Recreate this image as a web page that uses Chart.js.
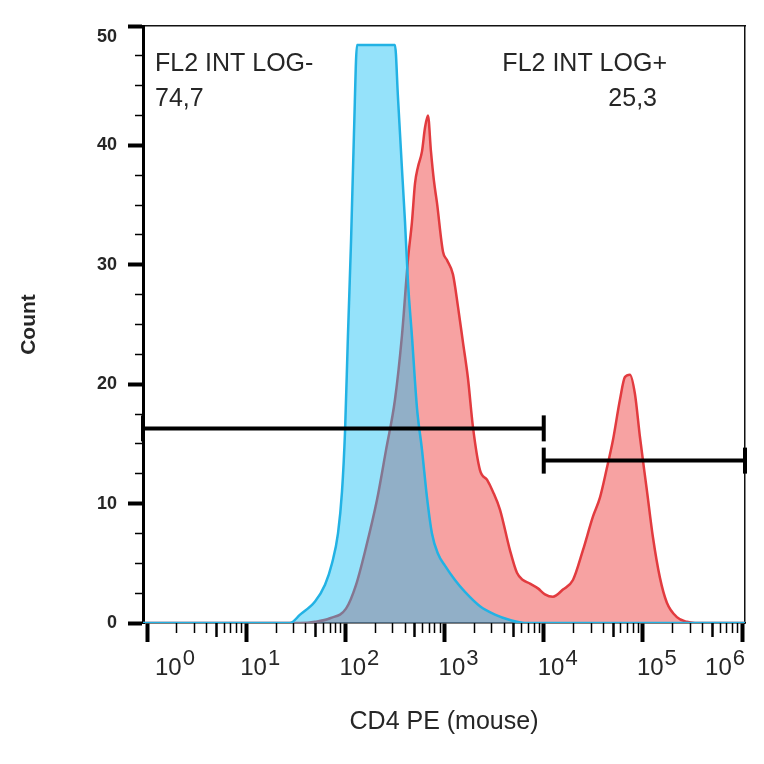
<!DOCTYPE html>
<html>
<head>
<meta charset="utf-8">
<title>CD4 PE (mouse) histogram</title>
<script src="https://cdn.jsdelivr.net/npm/chart.js@4.4.1/dist/chart.umd.min.js"></script>
<style>
  html, body { margin: 0; padding: 0; background: #fff; }
  #chart { display: block; }
</style>
</head>
<body>
<canvas id="chart" width="764" height="764"></canvas>
<script>
/* --- DATA --- */
const X_MIN = 0.91;
const X_MAX = 1.07e6;

// decade ticks + their exponent labels (10^0 ... 10^6)
const X_DECADES = [1, 10, 100, 1e3, 1e4, 1e5, 1e6];
const X_EXPONENTS = ['0', '1', '2', '3', '4', '5', '6'];
const X_MID = [5, 50, 500, 5e3, 5e4, 5e5];
const X_MINOR = [
  2, 3, 4, 6, 7, 8, 9,
  20, 30, 40, 60, 70, 80, 90,
  200, 300, 400, 600, 700, 800, 900,
  2e3, 3e3, 4e3, 6e3, 7e3, 8e3, 9e3,
  2e4, 3e4, 4e4, 6e4, 7e4, 8e4, 9e4,
  2e5, 3e5, 4e5, 6e5, 7e5, 8e5, 9e5
];

const Y_TICKS = [0, 10, 20, 30, 40, 50];
const Y_MINOR = [2.5, 5, 7.5, 12.5, 15, 17.5, 22.5, 25, 27.5, 32.5, 35, 37.5, 42.5, 45, 47.5];

// control (cyan) histogram
const BLUE_X = [0.91, 27.6, 34.9, 49.4, 62.3, 73.3, 84.2, 92.4, 99.1, 106, 114, 122, 131,
  316, 339, 372, 399, 428, 469, 527, 592, 665, 746, 858, 1009, 1273, 1606, 2275, 3222, 4563, 6463, 1.07e6];
const BLUE_Y = [0, 0, 0.7, 1.8, 3.2, 5, 7.5, 11, 16, 24, 32, 41, 48.4,
  48.4, 44, 38, 33.6, 28.5, 24, 18, 14.5, 10.5, 7.5, 5.8, 4.8, 3.6, 2.6, 1.4, 0.7, 0.25, 0, 0];

// CD4 PE (red) histogram
const RED_X = [0.91, 34.9, 49.4, 70, 101.4, 128, 161, 208, 257, 316, 372, 428, 469, 503, 539, 592, 635, 680,
  729, 782, 838, 964, 1057, 1215, 1365, 1533, 1721, 1934, 2275, 2676, 3075, 3618, 4563, 5369, 6171, 7260,
  8741, 10280, 12380, 15620, 19700, 24850, 31330, 36860, 43370, 49840, 58640, 65850, 73950, 83050, 93280,
  109700, 126100, 148400, 174500, 220100, 277600, 334300, 1.07e6];
const RED_Y = [0, 0, 0.1, 0.4, 1.2, 3.2, 6.3, 10.3, 14.5, 18.7, 24.1, 30.5, 33.6, 36.8, 38.2, 39.5, 41.5, 42.5,
  39.5, 37, 35.2, 31.1, 30.4, 29.2, 26.5, 23.5, 20.5, 16.4, 12.8, 12, 11, 9.5, 6.1, 4.2, 3.6, 3.3,
  2.9, 2.4, 2.2, 2.8, 3.6, 6.1, 8.9, 10.5, 13, 15.3, 18.7, 20.6, 20.8, 19.2, 15.6,
  11.1, 7.2, 3.8, 1.7, 0.5, 0.1, 0, 0];

// gates
const GATE_NEG_X = [X_MIN, 1e4];
const GATE_NEG_Y = [16.3, 16.3];
const GATE_POS_X = [1e4, X_MAX];
const GATE_POS_Y = [13.6, 13.6];
const GATE_NAMES = ['FL2 INT LOG-', 'FL2 INT LOG+'];
const GATE_PCT = ['74,7', '25,3'];

/* --- STYLE --- */
const FONT = "'Liberation Sans', Arial, sans-serif";
const TEXT = '#262626';

const toPoints = (xs, ys) => xs.map((x, i) => ({ x, y: ys[i] }));
const fixTicks = values => scale => { scale.ticks = values.map(v => ({ value: v })); };

// 10^n labels with real superscripts, placed from the x scale
const decadeLabels = {
  id: 'decadeLabels',
  afterDraw(chart) {
    const { ctx, chartArea, scales: { x } } = chart;
    ctx.save();
    ctx.fillStyle = TEXT;
    ctx.textBaseline = 'alphabetic';
    ctx.textAlign = 'left';
    X_DECADES.forEach((v, i) => {
      const exp = X_EXPONENTS[i];
      ctx.font = '24px ' + FONT;
      const wBase = ctx.measureText('10').width;
      ctx.font = '22px ' + FONT;
      const wExp = ctx.measureText(exp).width;
      let left = x.getPixelForValue(v) - 6;
      left = Math.max(left, chartArea.left + 12);
      left = Math.min(left, chartArea.right - wBase - wExp - 1);
      ctx.font = '24px ' + FONT;
      ctx.fillText('10', left, 675);
      ctx.font = '22px ' + FONT;
      ctx.fillText(exp, left + wBase + 1, 665);
    });
    ctx.restore();
  }
};

// gate names and percentages
const gateText = {
  id: 'gateText',
  afterDraw(chart) {
    const { ctx, chartArea } = chart;
    ctx.save();
    ctx.fillStyle = TEXT;
    ctx.font = '25px ' + FONT;
    ctx.textBaseline = 'alphabetic';
    ctx.textAlign = 'left';
    ctx.fillText(GATE_NAMES[0], chartArea.left + 12, chartArea.top + 45);
    ctx.fillText(GATE_PCT[0], chartArea.left + 12, chartArea.top + 80);
    ctx.textAlign = 'right';
    ctx.fillText(GATE_NAMES[1], chartArea.right - 78, chartArea.top + 45);
    ctx.fillText(GATE_PCT[1], chartArea.right - 88, chartArea.top + 80);
    ctx.restore();
  }
};

Chart.defaults.font.family = FONT;

const gateStyle = {
  borderColor: '#000',
  borderWidth: 4,
  pointStyle: 'line',
  pointRotation: 90,
  pointRadius: 13,
  pointBorderWidth: 4,
  pointBorderColor: '#000',
  fill: false,
  clip: false,
  order: 0,
  xAxisID: 'x',
  yAxisID: 'y'
};

new Chart(document.getElementById('chart'), {
  type: 'line',
  data: {
    datasets: [
      { label: GATE_NAMES[0], data: toPoints(GATE_NEG_X, GATE_NEG_Y), ...gateStyle },
      { label: GATE_NAMES[1], data: toPoints(GATE_POS_X, GATE_POS_Y), ...gateStyle },
      {
        label: 'Control',
        data: toPoints(BLUE_X, BLUE_Y),
        borderColor: '#22b2e4',
        backgroundColor: 'rgba(20, 190, 245, 0.45)',
        borderWidth: 2.5,
        fill: 'origin',
        pointRadius: 0,
        cubicInterpolationMode: 'monotone',
        order: 1,
        xAxisID: 'x',
        yAxisID: 'y'
      },
      {
        label: 'CD4 PE',
        data: toPoints(RED_X, RED_Y),
        borderColor: '#e23b3f',
        backgroundColor: 'rgba(240, 70, 70, 0.5)',
        borderWidth: 2.5,
        fill: 'origin',
        pointRadius: 0,
        cubicInterpolationMode: 'monotone',
        order: 2,
        xAxisID: 'x',
        yAxisID: 'y'
      }
    ]
  },
  options: {
    responsive: false,
    animation: false,
    devicePixelRatio: 1,
    events: [],
    layout: { padding: { top: 26, right: 19, bottom: 0, left: 10 } },
    plugins: { legend: { display: false }, tooltip: { enabled: false } },
    scales: {
      x: {
        type: 'logarithmic',
        axis: 'x',
        position: 'bottom',
        min: X_MIN,
        max: X_MAX,
        afterBuildTicks: fixTicks(X_DECADES),
        afterFit: s => { s.height = 141; },
        grid: { display: true, drawOnChartArea: false, drawTicks: true, tickLength: 19, tickWidth: 4, tickColor: '#000' },
        border: { display: true, color: '#000', width: 1.5 },
        ticks: { display: false },
        title: { display: true, text: 'CD4 PE (mouse)', color: TEXT, font: { size: 25 }, padding: { top: 0, bottom: 27 } }
      },
      xMid: {
        type: 'logarithmic',
        axis: 'x',
        position: { y: 0 },
        min: X_MIN,
        max: X_MAX,
        afterBuildTicks: fixTicks(X_MID),
        grid: { display: true, drawOnChartArea: false, drawTicks: true, tickLength: 14, tickWidth: 2.5, tickColor: '#000' },
        border: { display: false },
        ticks: { display: false }
      },
      xMinor: {
        type: 'logarithmic',
        axis: 'x',
        position: { y: 0 },
        min: X_MIN,
        max: X_MAX,
        afterBuildTicks: fixTicks(X_MINOR),
        grid: { display: true, drawOnChartArea: false, drawTicks: true, tickLength: 10, tickWidth: 1.5, tickColor: '#000' },
        border: { display: false },
        ticks: { display: false }
      },
      xTop: {
        type: 'linear',
        axis: 'x',
        position: 'top',
        min: 0,
        max: 1,
        afterFit: s => { s.height = 0; },
        grid: { display: false },
        border: { display: true, color: '#111', width: 1.5 },
        ticks: { display: false }
      },
      y: {
        type: 'linear',
        axis: 'y',
        position: 'left',
        min: 0,
        max: 50,
        afterBuildTicks: fixTicks(Y_TICKS),
        // fixed width so the plot starts where the reference frame does
        afterFit: s => { s.width = 133; s.paddingTop = 0; s.paddingBottom = 0; },
        grid: { display: true, drawOnChartArea: false, drawTicks: true, tickLength: 15, tickWidth: 4, tickColor: '#000' },
        border: { display: true, color: '#000', width: 3 },
        ticks: {
          color: TEXT,
          padding: 11,
          font: { size: 18, weight: 'bold' },
          // top label sits just under the frame corner
          callback: v => (v === 50 ? ['', '50'] : String(v))
        },
        title: { display: true, text: 'Count', color: TEXT, font: { size: 21, weight: 'bold' }, padding: { top: 7, bottom: 0 } }
      },
      yMinor: {
        type: 'linear',
        axis: 'y',
        position: { x: X_MIN },
        min: 0,
        max: 50,
        afterBuildTicks: fixTicks(Y_MINOR),
        grid: { display: true, drawOnChartArea: false, drawTicks: true, tickLength: 8, tickWidth: 1.5, tickColor: '#000' },
        border: { display: false },
        ticks: { display: false }
      },
      yRight: {
        type: 'linear',
        axis: 'y',
        position: 'right',
        min: 0,
        max: 1,
        afterFit: s => { s.width = 0; },
        grid: { display: false },
        border: { display: true, color: '#111', width: 1.5 },
        ticks: { display: false }
      }
    }
  },
  plugins: [decadeLabels, gateText]
});
</script>
</body>
</html>
